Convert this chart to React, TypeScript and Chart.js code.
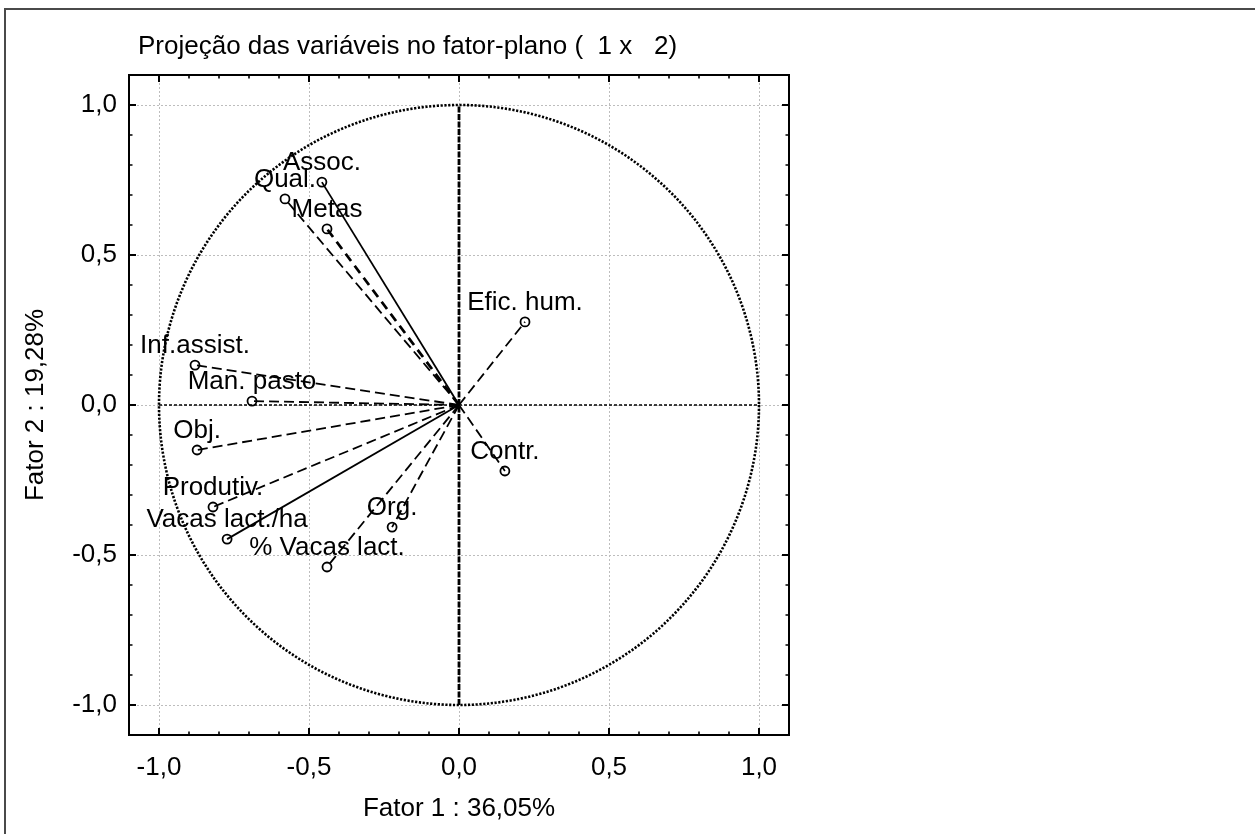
import React, { useEffect, useRef } from 'react';
import { Chart, registerables } from 'chart.js';

Chart.register(...registerables);

// ---- Data ----
const chartTitle = 'Projeção das variáveis no fator-plano (  1 x   2)';
const xAxisTitle = 'Fator 1 : 36,05%';
const yAxisTitle = 'Fator 2 : 19,28%';

const variableNames = [
  'Assoc.',
  'Qual.',
  'Metas',
  'Efic. hum.',
  'Inf.assist.',
  'Man. pasto',
  'Obj.',
  'Contr.',
  'Produtiv.',
  'Vacas lact./ha',
  '% Vacas lact.',
  'Org.',
];
const factor1Loadings = [-0.457, -0.58, -0.44, 0.22, -0.88, -0.69, -0.873, 0.153, -0.82, -0.773, -0.44, -0.223];
const factor2Loadings = [0.743, 0.687, 0.587, 0.277, 0.133, 0.013, -0.15, -0.22, -0.34, -0.447, -0.54, -0.407];
const vectorStyles = [
  'solid',
  'dashed',
  'heavy',
  'dashed',
  'dashed',
  'dashed',
  'dashed',
  'dashed',
  'dashed',
  'solid',
  'dashed',
  'dashed',
];

const axisMin = -1.1;
const axisMax = 1.1;
const majorTickValues = [-1.0, -0.5, 0.0, 0.5, 1.0];
const minorTickValues = [-0.9, -0.8, -0.7, -0.6, -0.4, -0.3, -0.2, -0.1, 0.1, 0.2, 0.3, 0.4, 0.6, 0.7, 0.8, 0.9];
const horizontalRefX = [-1, 1];
const horizontalRefY = [0, 0];
const verticalRefX = [0, 0];
const verticalRefY = [-1, 1];
const circleRadius = 1;
const originPoint = { x: 0, y: 0 };

const FONT = "'Liberation Sans', Arial, sans-serif";
const FONT_SIZE = 26;

const formatTick = (v: number) => v.toFixed(1).replace('.', ',');

const decorPlugin = {
  id: 'decor',
  beforeDraw(chart: any) {
    const { ctx, width, height } = chart;
    ctx.save();
    ctx.fillStyle = '#ffffff';
    ctx.fillRect(0, 0, width, height);
    // outer window frame
    ctx.strokeStyle = '#4a4a4a';
    ctx.lineWidth = 2;
    ctx.beginPath();
    ctx.moveTo(5, height + 2);
    ctx.lineTo(5, 9);
    ctx.lineTo(width + 2, 9);
    ctx.stroke();
    ctx.restore();
  },
  beforeDatasetsDraw(chart: any) {
    const { ctx, scales } = chart;
    const xs = scales.x;
    const ys = scales.y;
    const cx = xs.getPixelForValue(0);
    const cy = ys.getPixelForValue(0);
    const rx = xs.getPixelForValue(circleRadius) - cx;
    const ry = cy - ys.getPixelForValue(circleRadius);
    ctx.save();
    ctx.strokeStyle = '#000';
    ctx.lineWidth = 2.6;
    ctx.setLineDash([2.2, 1.6]);
    ctx.beginPath();
    ctx.ellipse(cx, cy, rx, ry, 0, 0, Math.PI * 2);
    ctx.stroke();
    ctx.restore();
  },
  afterDatasetsDraw(chart: any) {
    const { ctx, scales, chartArea } = chart;
    const xs = scales.x;
    const ys = scales.y;
    const { left, right, top, bottom } = chartArea;
    ctx.save();
    // plot frame
    ctx.strokeStyle = '#000';
    ctx.lineWidth = 2;
    ctx.setLineDash([]);
    ctx.strokeRect(left, top, right - left, bottom - top);
    // inward ticks
    const drawTicks = (values: number[], len: number, w: number) => {
      ctx.lineWidth = w;
      ctx.beginPath();
      values.forEach((v) => {
        const px = xs.getPixelForValue(v);
        ctx.moveTo(px, bottom);
        ctx.lineTo(px, bottom - len);
        ctx.moveTo(px, top);
        ctx.lineTo(px, top + len);
        const py = ys.getPixelForValue(v);
        ctx.moveTo(left, py);
        ctx.lineTo(left + len, py);
        ctx.moveTo(right, py);
        ctx.lineTo(right - len, py);
      });
      ctx.stroke();
    };
    drawTicks(majorTickValues, 7, 2);
    drawTicks(minorTickValues, 3.5, 1.6);

    // variable labels
    ctx.fillStyle = '#000';
    ctx.font = `${FONT_SIZE}px ${FONT}`;
    ctx.textAlign = 'center';
    ctx.textBaseline = 'middle';
    chart.data.datasets.forEach((ds: any, i: number) => {
      if (!ds.varLabel) return;
      const el = chart.getDatasetMeta(i).data[1];
      ctx.fillText(ds.varLabel, el.x, el.y - 19);
    });
    ctx.restore();
  },
  afterDraw(chart: any) {
    const { ctx, chartArea } = chart;
    ctx.save();
    ctx.fillStyle = '#000';
    ctx.font = `${FONT_SIZE}px ${FONT}`;
    ctx.textAlign = 'left';
    ctx.textBaseline = 'alphabetic';
    ctx.fillText(chartTitle, chartArea.left + 9, chartArea.top - 21);
    ctx.restore();
  },
};

export default function App() {
  const canvasRef = useRef<HTMLCanvasElement | null>(null);

  useEffect(() => {
    const canvas = canvasRef.current;
    if (!canvas) return;

    const refDatasets = [
      {
        data: horizontalRefX.map((x, i) => ({ x, y: horizontalRefY[i] })),
        showLine: true,
        borderColor: '#000',
        borderWidth: 1.7,
        borderDash: [3, 2],
        pointRadius: 0,
      },
      {
        data: verticalRefX.map((x, i) => ({ x, y: verticalRefY[i] })),
        showLine: true,
        borderColor: '#000',
        borderWidth: 2.8,
        borderDash: [6, 1.5],
        pointRadius: 0,
      },
    ];

    const vectorDatasets = variableNames.map((name, i) => {
      const style = vectorStyles[i];
      return {
        varLabel: name,
        data: [originPoint, { x: factor1Loadings[i], y: factor2Loadings[i] }],
        showLine: true,
        borderColor: '#000',
        borderWidth: style === 'heavy' ? 2.8 : 1.8,
        borderDash: style === 'solid' ? [] : style === 'heavy' ? [9, 6] : [10, 5],
        pointRadius: [0, 4.5],
        pointBorderWidth: 1.8,
        pointBorderColor: '#000',
        pointBackgroundColor: 'rgba(255,255,255,0)',
        pointStyle: 'circle',
      };
    });

    const chart = new Chart(canvas, {
      type: 'scatter',
      data: { datasets: [...refDatasets, ...vectorDatasets] as any },
      options: {
        animation: false,
        responsive: false,
        events: [],
        layout: { padding: { left: 0, top: 75, right: 466, bottom: 0 } },
        font: { family: FONT, size: FONT_SIZE },
        color: '#000',
        plugins: {
          legend: { display: false },
          tooltip: { enabled: false },
          title: { display: false },
        },
        scales: {
          x: {
            type: 'linear',
            min: axisMin,
            max: axisMax,
            afterBuildTicks: (s: any) => {
              s.ticks = majorTickValues.map((v) => ({ value: v }));
            },
            afterFit: (s: any) => {
              s.height = 99;
            },
            ticks: {
              callback: (v: any) => formatTick(Number(v)),
              autoSkip: false,
              maxRotation: 0,
              padding: 17,
              color: '#000',
              font: { family: FONT, size: FONT_SIZE },
            },
            grid: { color: '#bdbdbd', lineWidth: 1, drawTicks: false },
            border: { display: false, dash: [2, 2] },
            title: {
              display: true,
              text: xAxisTitle,
              color: '#000',
              font: { family: FONT, size: FONT_SIZE },
              padding: { top: 0, bottom: 10 },
            },
          },
          y: {
            type: 'linear',
            min: axisMin,
            max: axisMax,
            afterBuildTicks: (s: any) => {
              s.ticks = majorTickValues.map((v) => ({ value: v }));
            },
            afterFit: (s: any) => {
              s.width = 129;
            },
            ticks: {
              callback: (v: any) => formatTick(Number(v)),
              autoSkip: false,
              padding: 12,
              color: '#000',
              font: { family: FONT, size: FONT_SIZE },
            },
            grid: { color: '#bdbdbd', lineWidth: 1, drawTicks: false },
            border: { display: false, dash: [2, 2] },
            title: {
              display: true,
              text: yAxisTitle,
              color: '#000',
              font: { family: FONT, size: FONT_SIZE },
              padding: { top: 20, bottom: 0 },
            },
          },
        },
      } as any,
      plugins: [decorPlugin],
    });

    return () => {
      chart.destroy();
    };
  }, []);

  return (
    <div style={{ position: 'absolute', left: 0, top: 0, width: 1255, height: 834, background: '#fff' }}>
      <canvas ref={canvasRef} width={1255} height={834} style={{ width: 1255, height: 834, display: 'block' }} />
    </div>
  );
}
